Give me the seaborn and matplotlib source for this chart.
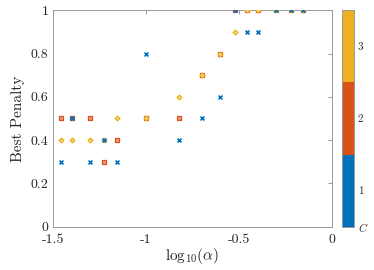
import numpy as np
import pandas as pd
import matplotlib
matplotlib.use("Agg")
import matplotlib.pyplot as plt
from matplotlib.colors import ListedColormap, Normalize, to_rgb
from matplotlib.cm import ScalarMappable
import seaborn as sns

sns.set_style("white")
plt.rcParams["font.family"] = ["cmr10", "DejaVu Serif"]
plt.rcParams["mathtext.fontset"] = "cm"
plt.rcParams["axes.unicode_minus"] = False
plt.rcParams["axes.formatter.use_mathtext"] = True

# ── datos ─────────────────────────────────────────────────────────────
alpha = [0.035, 0.04, 0.05, 0.06, 0.07, 0.1, 0.15, 0.2, 0.25, 0.3, 0.35, 0.4, 0.5, 0.6, 0.7]
pen_c1 = [0.3, 0.5, 0.3, 0.4, 0.3, 0.8, 0.4, 0.5, 0.6, 1.0, 0.9, 0.9, 1.0, 1.0, 1.0]
pen_c2 = [0.5, 0.5, 0.5, 0.3, 0.4, 0.5, 0.5, 0.7, 0.8, 1.0, 1.0, 1.0, 1.0, 1.0, 1.0]
pen_c3 = [0.4, 0.4, 0.4, 0.4, 0.5, 0.5, 0.6, 0.7, 0.8, 0.9, 1.0, 1.0, 1.0, 1.0, 1.0]
class_labels = [1, 2, 3]
class_colors = ["#0072BD", "#D95319", "#EDB120"]

x_ticks = [-1.5, -1, -0.5, 0]
y_ticks = [0, 0.2, 0.4, 0.6, 0.8, 1]

n = len(alpha)
df = pd.DataFrame({
    "logalpha": np.tile(np.log10(alpha), 3),
    "penalty": pen_c1 + pen_c2 + pen_c3,
    "C": [1] * n + [2] * n + [3] * n,
})


def light(c, f=0.45):
    r = np.array(to_rgb(c))
    return tuple(r + (1 - r) * f)


fig = plt.figure(figsize=(3.74, 2.70), dpi=100)
ax = fig.add_axes([0.1409, 0.1604, 0.7468, 0.8015])

# orden de dibujo: C=2, C=3, C=1 (azul encima)
sub = df[df["C"] == 2]
sns.scatterplot(data=sub, x="logalpha", y="penalty", marker="s", s=7,
                color=light(class_colors[1]), edgecolor=class_colors[1],
                linewidth=0.9, ax=ax, legend=False, zorder=3)
sub = df[df["C"] == 3]
sns.scatterplot(data=sub, x="logalpha", y="penalty", marker="D", s=6,
                color=light(class_colors[2]), edgecolor=class_colors[2],
                linewidth=0.9, ax=ax, legend=False, zorder=4)
sub = df[df["C"] == 1]
sns.scatterplot(data=sub, x="logalpha", y="penalty", marker="x", s=8,
                color=class_colors[0], linewidth=1.2, ax=ax, legend=False, zorder=5)

ax.set_xlim(-1.5, 0)
ax.set_ylim(0, 1)
ax.set_xticks(x_ticks)
ax.set_yticks(y_ticks)
ax.set_xticklabels([f"{t:g}" for t in x_ticks])
ax.set_yticklabels([f"{t:g}" for t in y_ticks])
ax.tick_params(direction="in", length=3, width=0.6, color="0.55",
               top=True, right=True, labelsize=10, labelcolor="#262626")
ax.tick_params(axis="x", pad=5)
ax.tick_params(axis="y", pad=3)
for sp in ax.spines.values():
    sp.set_color("0.6")
    sp.set_linewidth(0.7)
ax.set_xlabel(r"$\mathrm{log}_{10}(\alpha)$", fontsize=11, color="#262626", labelpad=0)
ax.set_ylabel("Best Penalty", fontsize=11, color="#262626", labelpad=4)

# barra de color discreta
cax = fig.add_axes([342 / 374, 0.1604, 11.7 / 374, 0.8015])
sm = ScalarMappable(norm=Normalize(0.5, 3.5), cmap=ListedColormap(class_colors))
cb = fig.colorbar(sm, cax=cax)
cb.set_ticks([0.5] + class_labels)
cb.set_ticklabels(["$C$"] + [str(c) for c in class_labels])
cb.ax.tick_params(direction="in", length=3, width=0.6, color="0.4",
                  labelsize=8, pad=3, labelcolor="#262626")
cb.outline.set_edgecolor("0.6")
cb.outline.set_linewidth(0.7)

fig.savefig("out.png", dpi=100)
